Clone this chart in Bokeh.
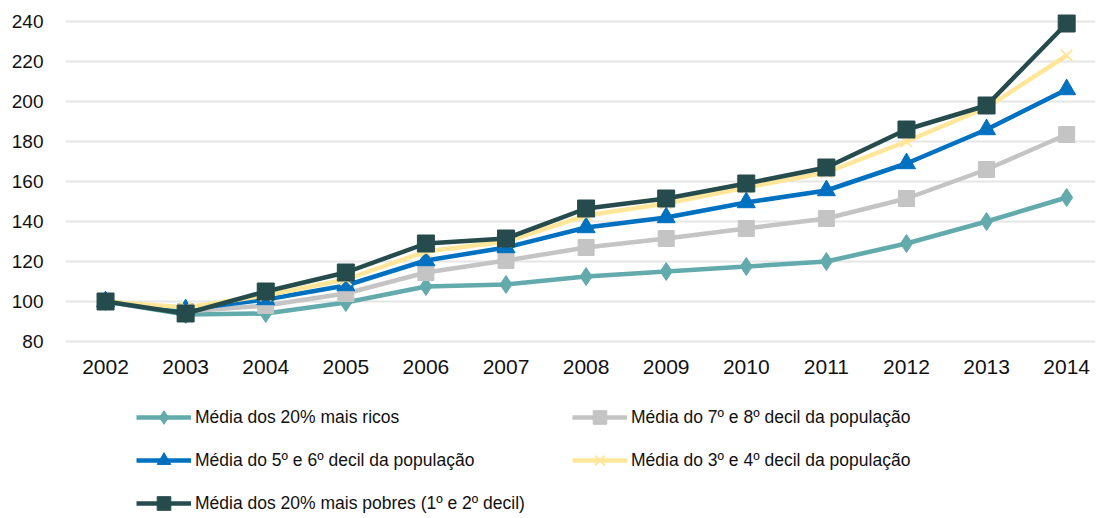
from bokeh.plotting import figure
from bokeh.models import ColumnDataSource, Legend, LegendItem, FixedTicker, Range1d
from bokeh.layouts import column
from bokeh.embed import file_html
from bokeh.resources import INLINE

years = [2002, 2003, 2004, 2005, 2006, 2007, 2008, 2009, 2010, 2011, 2012, 2013, 2014]
ricos = [100, 93.5, 94, 99.5, 107.5, 108.5, 112.5, 115, 117.5, 120, 129, 140, 152]
d78 = [100, 95, 98, 104, 114.5, 120.5, 127, 131.5, 136.5, 141.5, 151.5, 166, 183.5]
d56 = [100, 96, 101, 108, 120.5, 127, 137, 142, 149.5, 155.5, 169, 186, 206]
d34 = [100, 97, 103, 111, 125, 130, 143, 149, 157, 164.5, 180, 197, 223]
pobres = [100, 94, 105, 114.5, 129, 131.5, 146.5, 151.5, 159, 167, 186, 198, 239]

labels = [
    "Média dos 20% mais ricos",
    "Média do 7º e 8º decil da população",
    "Média do 5º e 6º decil da população",
    "Média do 3º e 4º decil da população",
    "Média dos 20% mais pobres (1º e 2º decil)",
]
y_ticks = [80, 100, 120, 140, 160, 180, 200, 220, 240]

FONT = "Liberation Sans"

p = figure(width=1097, height=390, output_backend="svg", toolbar_location=None,
           x_range=Range1d(2001.5, 2014.36), y_range=Range1d(76, 244),
           min_border_left=65, min_border_right=2, min_border_top=13, min_border_bottom=41)
p.outline_line_color = None
p.xgrid.grid_line_color = None
p.ygrid.grid_line_color = "#E6E6E6"
p.ygrid.grid_line_width = 2
p.yaxis.ticker = FixedTicker(ticks=y_ticks)
p.xaxis.ticker = FixedTicker(ticks=years)
for ax in (p.xaxis, p.yaxis):
    ax.axis_line_color = None
    ax.major_tick_line_color = None
    ax.minor_tick_line_color = None
    ax.major_tick_out = 0
    ax.major_tick_in = 0
p.yaxis.major_label_text_font = FONT
p.yaxis.major_label_text_font_size = "19px"
p.yaxis.major_label_text_color = "#111111"
p.yaxis.major_label_standoff = 22
p.xaxis.major_label_text_font = FONT
p.xaxis.major_label_text_font_size = "21px"
p.xaxis.major_label_text_color = "#111111"
p.xaxis.major_label_standoff = 10

series = [
    (ricos, "#62AAAB", "diamond", 18),
    (d78, "#C4C4C4", "square", 16),
    (d56, "#0070C0", "triangle", 18),
    (d34, "#FFE699", "x", 16),
    (pobres, "#264B4C", "square", 17),
]

# legend-only figure below the chart (its frame is aligned with the chart's frame)
p2 = figure(width=1097, height=128, output_backend="svg", toolbar_location=None,
            x_range=Range1d(0, 1), y_range=Range1d(0, 1),
            min_border_left=0, min_border_right=0, min_border_top=0, min_border_bottom=0)
p2.axis.visible = False
p2.grid.visible = False
p2.outline_line_color = None

items = []
for (vals, col, mk, sz), lab in zip(series, labels):
    src = ColumnDataSource(dict(x=years, y=vals))
    lw_m = 2 if mk == "x" else 1
    p.line("x", "y", source=src, line_color=col, line_width=4.5)
    p.scatter("x", "y", source=src, marker=mk, size=sz, fill_color=col,
              line_color=col, line_width=lw_m)
    ln2 = p2.line("x", "y", source=src, line_color=col, line_width=4.5)
    sc2 = p2.scatter("x", "y", source=src, marker=mk, size=sz, fill_color=col,
                     line_color=col, line_width=lw_m)
    items.append(LegendItem(label=lab, renderers=[ln2, sc2]))

# column-major fill: col 1 = ricos, 5-6, pobres ; col 2 = 7-8, 3-4
order = [items[0], items[2], items[4], items[1], items[3]]
legend = Legend(items=order, ncols=2, location=(71, -2),
                glyph_width=55, glyph_height=34, label_standoff=4,
                label_width=368, label_height=20, spacing=9, padding=0, margin=0,
                border_line_color=None, background_fill_alpha=0,
                label_text_font=FONT, label_text_font_size="17.5px",
                label_text_color="#111111")
p2.add_layout(legend, "center")

layout = column(p, p2, spacing=0)
open("out.html", "w").write(file_html(layout, INLINE))
